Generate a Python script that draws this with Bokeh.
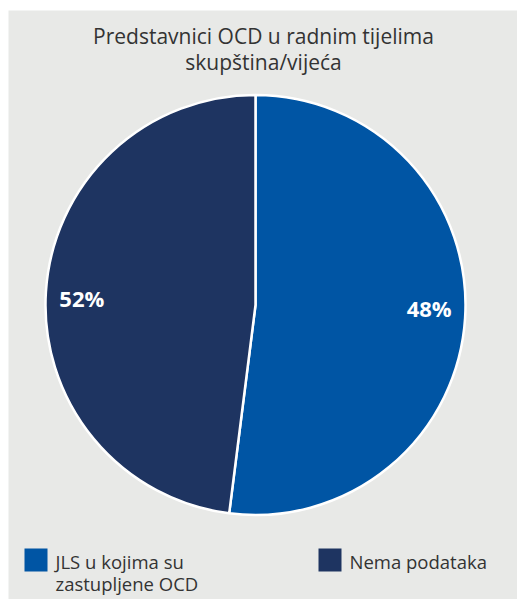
import math
from bokeh.plotting import figure
from bokeh.models import Range1d, ColumnDataSource
from bokeh.core.properties import value
from bokeh.embed import file_html
from bokeh.resources import INLINE

# ---- data ----
title_lines = ["Predstavnici OCD u radnim tijelima", "skupština/vijeća"]
categories = ["JLS u kojima su\nzastupljene OCD", "Nema podataka"]
slice_values = [52, 48]
slice_labels = ["48%", "52%"]
colors = ["#0055A4", "#1E3461"]

W, H = 517, 599
BG = "#E8E9E7"

p = figure(width=W, height=H, output_backend="svg", toolbar_location=None,
           x_range=Range1d(8, W), y_range=Range1d(-H, -10),
           min_border_left=8, min_border_top=10, min_border_right=0,
           min_border_bottom=0)
p.axis.visible = False
p.grid.visible = False
p.outline_line_color = None
p.background_fill_color = BG
p.border_fill_color = "white"

# helper: page y (top-down) -> data y
def Y(py):
    return -py

cx, cy, r = 255, Y(304.5), 210
total = sum(slice_values)
starts, ends, lx, ly = [], [], [], []
cum = 0
for v in slice_values:
    a0 = math.pi / 2 - cum / total * 2 * math.pi
    cum += v
    a1 = math.pi / 2 - cum / total * 2 * math.pi
    starts.append(a0)
    ends.append(a1)
    mid = (a0 + a1) / 2
    lx.append(cx + 174 * math.cos(mid))
    ly.append(cy + 174 * math.sin(mid) * 0.5 + 2)

src = ColumnDataSource(dict(start=starts, end=ends, color=colors,
                            lx=lx, ly=ly, lab=slice_labels))
p.wedge(x=cx, y=cy, radius=r, start_angle="start", end_angle="end",
        direction="clock", fill_color="color", line_color="white",
        line_width=2.5, source=src)
p.text(x="lx", y="ly", text="lab", source=src, text_color="white",
       text_font=value("Open Sans"), text_font_style="bold",
       text_font_size="22px", text_align="center", text_baseline="middle")

# title
p.text(x=[263] * 2, y=[Y(35), Y(61)], text=title_lines,
       text_color="#333333", text_font=value("Open Sans"),
       text_font_size="21px", text_align="center", text_baseline="alphabetic")

# legend
leg_x = [24, 318]
sq = 23
for i, (cat, col) in enumerate(zip(categories, colors)):
    x0 = leg_x[i]
    p.rect(x=x0 + sq / 2, y=Y(559.5), width=sq, height=sq,
           fill_color=col, line_color=None)
    lines = cat.split("\n")
    p.text(x=[x0 + 31] * len(lines), y=[Y(561 + 22 * k) for k in range(len(lines))],
           text=lines, text_color="#333333", text_font=value("Open Sans"),
           text_font_size="18.5px", text_align="left", text_baseline="alphabetic")

open("out.html", "w").write(file_html(p, INLINE))
